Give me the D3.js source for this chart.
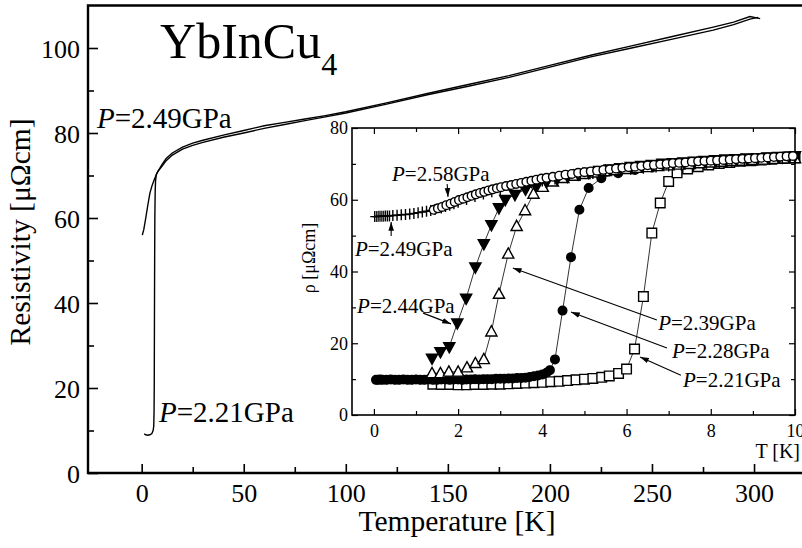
<!DOCTYPE html>
<html>
<head>
<meta charset="utf-8">
<script src="https://cdn.jsdelivr.net/npm/d3@7"></script>
<style>
  body { margin: 0; background: #fff; }
  svg { display: block; }
  text { font-family: "Liberation Serif", "Times New Roman", serif; fill: #000; }
  .domain { display: none; }
  .tick line { stroke: #000; }
</style>
</head>
<body>
<svg id="chart"></svg>
<script>
// main panel: two full sweeps 0..300 K
const mainT249 = [0.3, 1, 2, 3, 4, 5, 6, 7, 8, 10, 12, 15, 20, 25, 30, 40, 50, 60, 70, 80, 90, 100, 120, 140, 160, 180, 200, 220, 240, 260, 280, 290, 298, 303];
const mainR249 = [56, 57.2, 60, 63, 65.8, 67.5, 68.8, 70, 71, 72.6, 74, 75.3, 76.7, 77.6, 78.3, 79.5, 80.6, 81.7, 82.5, 83.3, 84.1, 85, 87.1, 89.3, 91.4, 93.5, 95.9, 98.3, 100.5, 102.7, 104.9, 106.1, 107.4, 106.9];
const mainT221 = [1.2, 2, 3, 4, 5, 5.6, 5.9, 6.05, 6.15, 6.25, 6.35, 6.45, 6.6, 6.8, 7.2, 8, 10, 12, 15, 20, 25, 30, 40, 50, 60, 70, 80, 90, 100, 120, 140, 160, 180, 200, 220, 240, 260, 280, 290, 298, 302];
const mainR221 = [9.2, 9.0, 8.9, 9.0, 9.3, 10, 11, 14, 20, 35, 50, 60, 66, 68.8, 70.3, 71.0, 72.2, 73.5, 74.8, 76.2, 77.1, 77.8, 79.0, 80.0, 81.1, 82.0, 82.9, 83.8, 84.7, 86.8, 89.0, 91.0, 93.1, 95.5, 97.9, 100.0, 102.1, 104.2, 105.5, 106.8, 107.2];

// inset: low temperature data per pressure
const t258 = [1.42, 1.52, 1.62, 1.72, 1.82, 1.92, 2.02, 2.12, 2.22, 2.32, 2.42, 2.52, 2.62, 2.72, 2.82, 2.92, 3.02,
              3.14, 3.26, 3.38, 3.5, 3.62, 3.74, 3.86, 3.98, 4.1,
              4.25, 4.4, 4.55, 4.7, 4.85, 5.0, 5.15, 5.3, 5.45, 5.6, 5.75, 5.9, 6.05, 6.2, 6.35, 6.5, 6.65, 6.8, 6.95, 7.1,
              7.25, 7.4, 7.55, 7.7, 7.85, 8.0, 8.15, 8.3, 8.45, 8.6, 8.75, 8.9, 9.05, 9.2, 9.35, 9.5, 9.65, 9.8, 9.95];
const r258 = [57.2, 57.6, 58.0, 58.5, 58.9, 59.4, 59.9, 60.3, 60.7, 61.1, 61.5, 61.9, 62.2, 62.6, 62.9, 63.2, 63.5,
              63.8, 64.1, 64.4, 64.7, 65.0, 65.3, 65.6, 65.9, 66.1,
              66.4, 66.7, 67.0, 67.2, 67.5, 67.7, 67.9, 68.1, 68.3, 68.5, 68.7, 68.9, 69.1, 69.2, 69.4, 69.6, 69.7, 69.9, 70.0, 70.2,
              70.3, 70.4, 70.6, 70.7, 70.8, 70.9, 71.0, 71.1, 71.2, 71.3, 71.4, 71.5, 71.6, 71.7, 71.8, 71.9, 72.0, 72.1, 72.2];

const t249 = [0.02, 0.07, 0.12, 0.17, 0.22, 0.27, 0.32, 0.37, 0.45, 0.55, 0.65, 0.75, 0.85, 0.95, 1.05, 1.15, 1.25, 1.35, 1.45, 1.6, 1.7, 1.8, 1.9, 2.0, 2.2, 2.4, 2.6, 2.8, 3.0, 3.25, 3.5, 3.75, 4.0, 4.3, 4.6, 4.9, 5.2, 5.5, 5.8, 6.1, 6.4, 6.7, 7.0, 7.3, 7.6, 7.9, 8.2, 8.5, 8.8, 9.1, 9.4, 9.7, 10.0];
const r249 = [55.3, 55.3, 55.4, 55.4, 55.4, 55.5, 55.5, 55.5, 55.6, 55.7, 55.8, 55.9, 56.0, 56.2, 56.4, 56.6, 56.8, 57.0, 57.3, 57.7, 58.1, 58.5, 58.9, 59.3, 60.1, 60.9, 61.6, 62.2, 62.8, 63.5, 64.1, 64.7, 65.2, 65.8, 66.3, 66.8, 67.3, 67.7, 68.1, 68.5, 68.8, 69.1, 69.4, 69.7, 69.9, 70.2, 70.4, 70.6, 70.8, 71.0, 71.2, 71.4, 71.6];

const t244 = [1.38, 1.58, 1.79, 1.98, 2.19, 2.41, 2.61, 2.79, 2.97, 3.12, 3.35, 3.6, 3.85, 4.1, 4.35, 4.6, 4.85, 5.1, 5.35, 5.6, 5.85, 6.1, 6.35, 6.6, 6.85, 7.1, 7.35, 7.6, 7.85, 8.1, 8.35, 8.6, 8.85, 9.1, 9.35, 9.6, 9.85, 10.0];
const r244 = [15.8, 17.6, 19.0, 25.6, 32.5, 41.2, 47.7, 53.0, 57.7, 60.0, 61.4, 62.9, 64.0, 65.0, 65.8, 66.5, 67.1, 67.6, 68.1, 68.5, 68.9, 69.2, 69.5, 69.8, 70.1, 70.3, 70.5, 70.7, 70.9, 71.1, 71.3, 71.4, 71.6, 71.7, 71.9, 72.0, 72.1, 72.2];

const t239 = [1.38, 1.58, 1.78, 2.0, 2.21, 2.41, 2.61, 2.79, 2.97, 3.19, 3.39, 3.59, 3.79, 4.01, 4.25, 4.5, 4.75, 5.0, 5.25, 5.5, 5.75, 6.0, 6.25, 6.5, 6.75, 7.0, 7.25, 7.5, 7.75, 8.0, 8.25, 8.5, 8.75, 9.0, 9.25, 9.5, 9.75, 10.0];
const r239 = [11.6, 11.6, 12.0, 12.0, 13.2, 14.4, 15.5, 23.2, 33.7, 44.9, 52.6, 57.0, 61.6, 63.5, 65.0, 66.0, 66.6, 67.1, 67.5, 67.9, 68.2, 68.5, 68.8, 69.0, 69.3, 69.5, 69.7, 69.9, 70.1, 70.3, 70.5, 70.7, 70.8, 71.0, 71.1, 71.3, 71.4, 71.5];

const t228 = [0.05, 0.1, 0.15, 0.2, 0.3, 0.4, 0.5, 0.6, 0.7, 0.8, 0.9, 1.0, 1.1, 1.2, 1.3, 1.4, 1.5, 1.6, 1.7, 1.8, 1.9, 2.0, 2.1, 2.2, 2.3, 2.4, 2.5, 2.6, 2.7, 2.8, 2.9, 3.0, 3.1, 3.2, 3.3, 3.4, 3.5, 3.6, 3.7, 3.8, 3.9, 4.0, 4.1, 4.18, 4.3, 4.48, 4.68, 4.88, 5.1, 5.4, 5.8, 6.2, 6.6, 7.0, 7.5, 8.0, 8.5, 9.0, 9.5, 10.0];
const r228 = [9.8, 9.8, 9.9, 9.8, 9.8, 9.9, 9.8, 9.8, 9.9, 9.8, 9.8, 9.9, 9.8, 9.8, 9.9, 9.8, 9.8, 9.9, 9.9, 9.8, 9.9, 9.9, 9.8, 9.9, 9.9, 10.0, 9.9, 10.0, 10.0, 10.0, 10.1, 10.1, 10.1, 10.2, 10.2, 10.3, 10.3, 10.4, 10.6, 10.8, 11.0, 11.3, 11.8, 12.5, 15.5, 29.1, 44.0, 57.2, 63.3, 66.0, 67.4, 68.3, 69.0, 69.6, 70.1, 70.5, 70.9, 71.2, 71.5, 71.7];

const t221 = [1.4, 1.6, 1.8, 2.0, 2.2, 2.4, 2.6, 2.8, 3.0, 3.2, 3.4, 3.6, 3.8, 4.0, 4.2, 4.4, 4.6, 4.8, 5.0, 5.2, 5.41, 5.59, 5.81, 6.0, 6.19, 6.4, 6.6, 6.8, 7.0, 7.2, 7.45, 7.7, 7.95, 8.2, 8.45, 8.7, 8.95, 9.2, 9.45, 9.7, 10.0];
const r221 = [8.6, 8.5, 8.5, 8.4, 8.4, 8.5, 8.5, 8.6, 8.6, 8.7, 8.8, 8.9, 9.0, 9.1, 9.3, 9.4, 9.6, 9.8, 10.0, 10.2, 10.5, 10.9, 11.6, 12.8, 18.4, 33.0, 50.7, 59.1, 65.1, 67.5, 68.6, 69.2, 69.7, 70.1, 70.4, 70.7, 70.9, 71.1, 71.3, 71.5, 71.7];

const mainXTicks = [0, 50, 100, 150, 200, 250, 300];
const mainYTicks = [0, 20, 40, 60, 80, 100];
const insetXTicks = [0, 2, 4, 6, 8, 10];
const insetYTicks = [0, 20, 40, 60, 80];

const W = 802, H = 548;
const FONT = '"Liberation Serif", "Times New Roman", serif';

const svg = d3.select("#chart").attr("width", W).attr("height", H);

svg.append("defs").append("marker")
    .attr("id", "head")
    .attr("viewBox", "0 -4 10 8")
    .attr("refX", 10)
    .attr("markerWidth", 9)
    .attr("markerHeight", 7)
    .attr("markerUnits", "userSpaceOnUse")
    .attr("orient", "auto")
    .append("path")
    .attr("d", "M0,-3.2L10,0L0,3.2z");

// ---------- main panel ----------
const x = d3.scaleLinear().domain([-26.3, 323.5]).range([88, 802]);
const y = d3.scaleLinear().domain([0, 110]).range([473, 5.5]);

svg.append("g")
    .attr("transform", "translate(0,473)")
    .call(d3.axisBottom(x).tickValues(mainXTicks).tickSize(-9).tickPadding(11))
    .call(g => g.selectAll("text").style("font-size", "26px").style("font-family", FONT));
svg.append("g")
    .attr("transform", "translate(0,473)")
    .call(d3.axisBottom(x).tickValues([25, 75, 125, 175, 225, 275]).tickSize(-6).tickFormat(""));
svg.append("g")
    .attr("transform", "translate(88,0)")
    .call(d3.axisLeft(y).tickValues(mainYTicks).tickSize(-10).tickPadding(8))
    .call(g => g.selectAll("text").style("font-size", "26px").style("font-family", FONT).attr("dy", "0.38em"));
svg.append("g")
    .attr("transform", "translate(88,0)")
    .call(d3.axisLeft(y).tickValues([10, 30, 50, 70, 90]).tickSize(-6).tickFormat(""));
svg.selectAll(".tick line").attr("stroke-width", 1.6);

// frame: left, bottom, top (right edge falls outside the picture)
svg.append("path")
    .attr("d", `M${W + 2},${y(110)}H88V473H${W + 2}`)
    .attr("fill", "none")
    .attr("stroke", "#000")
    .attr("stroke-width", 2.4);

const mainLine = d3.line().x(d => x(d[0])).y(d => y(d[1]));
[[mainT249, mainR249], [mainT221, mainR221]].forEach(([ts, rs]) => {
    svg.append("path")
        .datum(ts.map((t, i) => [t, rs[i]]))
        .attr("d", mainLine)
        .attr("fill", "none")
        .attr("stroke", "#000")
        .attr("stroke-width", 1.4);
});

svg.append("text")
    .attr("x", x(9.0)).attr("y", y(97.6))
    .style("font-size", "50px")
    .text("YbInCu")
    .append("tspan").attr("dy", 17).style("font-size", "32px").text("4");

function pLabel(parent, px, py, txt, size) {
    const t = parent.append("text").attr("x", px).attr("y", py).style("font-size", size + "px");
    t.append("tspan").style("font-style", "italic").text("P");
    t.append("tspan").text("=" + txt);
    return t;
}
pLabel(svg, x(-21.9), y(81.2), "2.49GPa", 29);
pLabel(svg, x(8.5), y(12.1), "2.21GPa", 29);

svg.append("text")
    .attr("x", 457).attr("y", 531)
    .attr("text-anchor", "middle")
    .style("font-size", "29.5px")
    .text("Temperature [K]");
svg.append("text")
    .attr("transform", "translate(30,232) rotate(-90)")
    .attr("text-anchor", "middle")
    .style("font-size", "29.5px")
    .text("Resistivity [μΩcm]");

// ---------- inset ----------
const xi = d3.scaleLinear().domain([-0.52, 10]).range([352, 795]);
const yi = d3.scaleLinear().domain([0, 80]).range([415, 128]);

const inset = svg.append("g");
inset.append("rect")
    .attr("x", 352).attr("y", 128).attr("width", 443).attr("height", 287)
    .attr("fill", "#fff");

const ix = [1, 3, 5, 7, 9], iy = [10, 30, 50, 70];
inset.append("g").attr("transform", "translate(0,415)")
    .call(d3.axisBottom(xi).tickValues(insetXTicks).tickSize(-6).tickPadding(9))
    .call(g => g.selectAll("text").style("font-size", "18px").style("font-family", FONT));
inset.append("g").attr("transform", "translate(0,415)")
    .call(d3.axisBottom(xi).tickValues(ix).tickSize(-4).tickFormat(""));
inset.append("g").attr("transform", "translate(0,128)")
    .call(d3.axisTop(xi).tickValues(insetXTicks).tickSize(-6).tickFormat(""));
inset.append("g").attr("transform", "translate(0,128)")
    .call(d3.axisTop(xi).tickValues(ix).tickSize(-4).tickFormat(""));
inset.append("g").attr("transform", "translate(352,0)")
    .call(d3.axisLeft(yi).tickValues(insetYTicks).tickSize(-6).tickPadding(4))
    .call(g => g.selectAll("text").style("font-size", "18px").style("font-family", FONT));
inset.append("g").attr("transform", "translate(352,0)")
    .call(d3.axisLeft(yi).tickValues(iy).tickSize(-4).tickFormat(""));
inset.append("g").attr("transform", "translate(795,0)")
    .call(d3.axisRight(yi).tickValues(insetYTicks).tickSize(-6).tickFormat(""));
inset.append("g").attr("transform", "translate(795,0)")
    .call(d3.axisRight(yi).tickValues(iy).tickSize(-4).tickFormat(""));
inset.selectAll(".tick line").attr("stroke-width", 1.2);

inset.append("rect")
    .attr("x", 352).attr("y", 128).attr("width", 443).attr("height", 287)
    .attr("fill", "none").attr("stroke", "#000").attr("stroke-width", 1.6);

const shapes = {
    circle: "M4.3,0A4.3,4.3 0 1,1 -4.3,0A4.3,4.3 0 1,1 4.3,0Z",
    square: "M-4.8,-4.8H4.8V4.8H-4.8Z",
    up: "M0,-6L5.6,4.2H-5.6Z",
    down: "M0,6L5.6,-4.2H-5.6Z",
    plus: "M-4.5,0H4.5M0,-5.5V5.5"
};
const series = [
    {t: t221, r: r221, shape: "square", fill: "#fff"},
    {t: t228, r: r228, shape: "circle", fill: "#000"},
    {t: t239, r: r239, shape: "up", fill: "#fff"},
    {t: t244, r: r244, shape: "down", fill: "#000"},
    {t: t249, r: r249, shape: "plus", fill: "none"},
    {t: t258, r: r258, shape: "circle", fill: "#fff"}
];
const insetLine = d3.line().x(d => xi(d[0])).y(d => yi(d[1]));
series.forEach(s => {
    const pts = s.t.map((t, i) => [t, s.r[i]]);
    inset.append("path")
        .datum(pts)
        .attr("d", insetLine)
        .attr("fill", "none")
        .attr("stroke", "#000")
        .attr("stroke-width", 0.8);
    inset.append("g")
        .selectAll("path")
        .data(pts)
        .join("path")
        .attr("transform", d => `translate(${xi(d[0])},${yi(d[1])})`)
        .attr("d", shapes[s.shape])
        .attr("fill", s.fill)
        .attr("stroke", "#000")
        .attr("stroke-width", 1.4);
});

// pressure labels with arrows (data coordinates of the inset)
const notes = [
    {txt: "2.58GPa", lx: 0.43, ly: 65.2, a: [1.74, 64.4, 1.76, 60.8]},
    {txt: "2.49GPa", lx: -0.45, ly: 44.3, a: [0.41, 49.9, 0.41, 53.8]},
    {txt: "2.44GPa", lx: -0.40, ly: 28.4, a: [1.17, 28.4, 1.83, 25.4]},
    {txt: "2.39GPa", lx: 6.75, ly: 23.7, a: [6.72, 26.5, 3.30, 41.0]},
    {txt: "2.28GPa", lx: 7.08, ly: 15.9, a: [6.96, 18.7, 4.68, 28.7]},
    {txt: "2.21GPa", lx: 7.34, ly: 7.8, a: [7.29, 11.1, 6.32, 16.2]}
];
notes.forEach(n => {
    inset.append("line")
        .attr("x1", xi(n.a[0])).attr("y1", yi(n.a[1]))
        .attr("x2", xi(n.a[2])).attr("y2", yi(n.a[3]))
        .attr("stroke", "#000")
        .attr("stroke-width", 1.1)
        .attr("marker-end", "url(#head)");
    pLabel(inset, xi(n.lx), yi(n.ly), n.txt, 21);
});

svg.append("text")
    .attr("x", 800).attr("y", 458)
    .attr("text-anchor", "end")
    .style("font-size", "20px")
    .text("T [K]");
svg.append("text")
    .attr("transform", "translate(315,258) rotate(-90)")
    .attr("text-anchor", "middle")
    .style("font-size", "18px")
    .text("ρ [μΩcm]");
</script>
</body>
</html>
